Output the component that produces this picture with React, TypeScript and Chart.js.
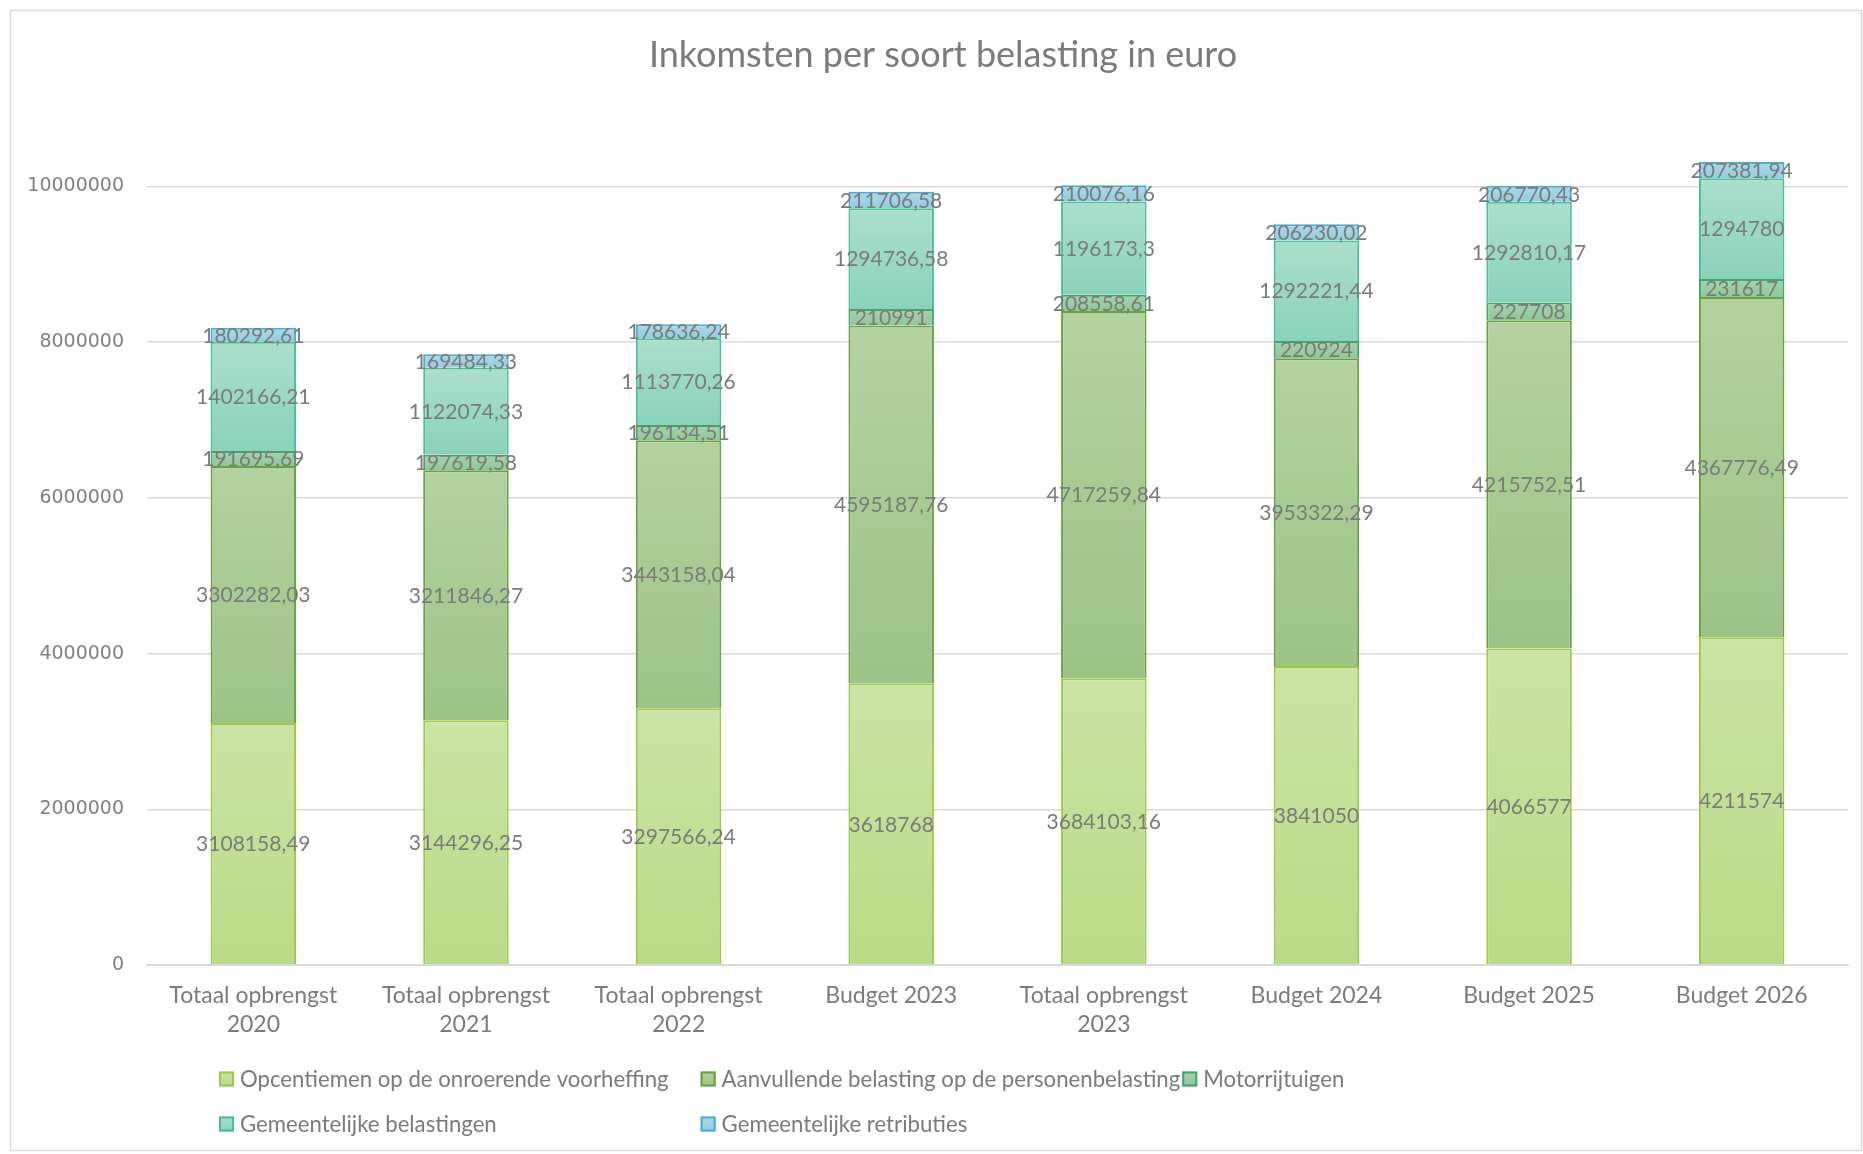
import React, { useEffect, useRef } from 'react';
import { Chart, registerables } from 'chart.js';
Chart.register(...registerables);

const categories: (string | string[])[] = [
  ['Totaal opbrengst', '2020'],
  ['Totaal opbrengst', '2021'],
  ['Totaal opbrengst', '2022'],
  'Budget 2023',
  ['Totaal opbrengst', '2023'],
  'Budget 2024',
  'Budget 2025',
  'Budget 2026',
];

const opcentiemen = [3108158.49, 3144296.25, 3297566.24, 3618768, 3684103.16, 3841050, 4066577, 4211574];
const aanvullende = [3302282.03, 3211846.27, 3443158.04, 4595187.76, 4717259.84, 3953322.29, 4215752.51, 4367776.49];
const motorrijtuigen = [191695.69, 197619.58, 196134.51, 210991, 208558.61, 220924, 227708, 231617];
const gemBelastingen = [1402166.21, 1122074.33, 1113770.26, 1294736.58, 1196173.3, 1292221.44, 1292810.17, 1294780];
const gemRetributies = [180292.61, 169484.33, 178636.24, 211706.58, 210076.16, 206230.02, 206770.43, 207381.94];

const seriesNames = [
  'Opcentiemen op de onroerende voorheffing',
  'Aanvullende belasting op de personenbelasting',
  'Motorrijtuigen',
  'Gemeentelijke belastingen',
  'Gemeentelijke retributies',
];
const allSeries = [opcentiemen, aanvullende, motorrijtuigen, gemBelastingen, gemRetributies];

const yTickValues = [0, 2000000, 4000000, 6000000, 8000000, 10000000];

const title = 'Inkomsten per soort belasting in euro';

// styles
const fillTop = ['#cae4a5', '#b3d2a0', '#a6d3ad', '#abdfcc', '#acd9e8'];
const fillBottom = ['#b9db86', '#9cc487', '#8fc79a', '#8ad2bb', '#93cde0'];
const borderCols = ['#9acb45', '#62a53c', '#3ea868', '#45bfa2', '#4aaed0'];
const TEXT = '#7b7b7b';
const FONT = 'Lato, "Open Sans", sans-serif';

function fmt(v: number): string {
  return String(v).replace('.', ',');
}

function makeFill(si: number) {
  return (ctx: any) => {
    const chart = ctx.chart;
    const y = chart.scales && chart.scales.y;
    if (!chart.chartArea || !y || ctx.type !== 'data') return fillBottom[si];
    const i = ctx.dataIndex;
    let base = 0;
    for (let s = 0; s < si; s++) base += allSeries[s][i];
    const v = allSeries[si][i];
    const y0 = y.getPixelForValue(base + v);
    const y1 = y.getPixelForValue(base);
    if (!isFinite(y0) || !isFinite(y1) || y0 === y1) return fillBottom[si];
    const g = chart.ctx.createLinearGradient(0, y0, 0, y1);
    g.addColorStop(0, fillTop[si]);
    g.addColorStop(1, fillBottom[si]);
    return g;
  };
}

const framePlugin = {
  id: 'frame',
  beforeDraw(chart: any) {
    const c = chart.ctx;
    c.save();
    c.fillStyle = '#ffffff';
    c.fillRect(0, 0, chart.width, chart.height);
    c.strokeStyle = '#d9d9d9';
    c.lineWidth = 1.5;
    c.strokeRect(10.5, 10.5, 1851, 1140);
    c.restore();
  },
  afterDraw(chart: any) {
    const c = chart.ctx;
    c.save();
    // title
    c.font = `36px ${FONT}`;
    c.fillStyle = TEXT;
    c.textAlign = 'center';
    c.textBaseline = 'middle';
    c.fillText(title, 943, 55);
    // legend
    c.font = `22.2px ${FONT}`;
    c.textAlign = 'left';
    const widths = seriesNames.map((n) => c.measureText(n).width);
    const box = 15;
    const gap = 6;
    const colW = Math.max(...widths) + box + gap + 2;
    const startX = 219;
    const rows = [1079, 1124];
    seriesNames.forEach((name, k) => {
      const row = k < 3 ? 0 : 1;
      const col = k < 3 ? k : k - 3;
      const x = startX + col * colW;
      const yc = rows[row];
      const g = c.createLinearGradient(0, yc - box / 2, 0, yc + box / 2);
      g.addColorStop(0, fillTop[k]);
      g.addColorStop(1, fillBottom[k]);
      c.fillStyle = g;
      c.fillRect(x, yc - box / 2, box, box);
      c.strokeStyle = borderCols[k];
      c.lineWidth = 2;
      c.strokeRect(x + 1, yc - box / 2 + 1, box - 2, box - 2);
      c.fillStyle = TEXT;
      c.fillText(name, x + box + gap, yc + 1);
    });
    c.restore();
  },
};

const labelPlugin = {
  id: 'segLabels',
  afterDatasetsDraw(chart: any) {
    const c = chart.ctx;
    c.save();
    c.font = `21px ${FONT}`;
    c.fillStyle = TEXT;
    c.textAlign = 'center';
    c.textBaseline = 'middle';
    chart.data.datasets.forEach((ds: any, di: number) => {
      const meta = chart.getDatasetMeta(di);
      meta.data.forEach((el: any, i: number) => {
        const p = el.getProps(['x', 'y', 'base'], true);
        c.fillText(fmt(ds.data[i]), p.x, (p.y + p.base) / 2 + 1);
      });
    });
    c.restore();
  },
};

export default function App() {
  const ref = useRef<HTMLCanvasElement | null>(null);
  useEffect(() => {
    if (!ref.current) return;
    const chart = new Chart(ref.current, {
      type: 'bar',
      data: {
        labels: categories,
        datasets: allSeries.map((data, si) => ({
          label: seriesNames[si],
          data,
          backgroundColor: makeFill(si),
          borderColor: borderCols[si],
          borderWidth: 2,
          categoryPercentage: 1,
          barPercentage: 0.402,
        })),
      },
      options: {
        animation: false,
        responsive: false,
        devicePixelRatio: 1,
        layout: { padding: { left: 0, right: 15, top: 108.65, bottom: 0 } },
        plugins: {
          legend: { display: false },
          title: { display: false },
          tooltip: { enabled: false },
        },
        scales: {
          x: {
            stacked: true,
            grid: { display: false, drawTicks: false },
            border: { display: true, color: '#d9d9d9', width: 2 },
            ticks: {
              color: TEXT,
              font: { family: FONT, size: 23, lineHeight: 1.22 },
              padding: 17,
              maxRotation: 0,
              autoSkip: false,
            },
            afterFit: (s: any) => {
              s.height = 189;
            },
          },
          y: {
            stacked: true,
            min: 0,
            max: 11000000,
            grid: { color: '#d9d9d9', lineWidth: 1.5, drawTicks: false },
            border: { display: false },
            ticks: {
              stepSize: 2000000,
              color: '#808080',
              font: { family: '"DejaVu Sans", sans-serif', size: 19 },
              padding: 23,
              callback: (v: any) => String(v),
            },
            afterBuildTicks: (s: any) => {
              s.ticks = yTickValues.map((value) => ({ value }));
            },
            afterFit: (s: any) => {
              s.width = 147;
            },
          },
        },
      },
      plugins: [framePlugin, labelPlugin],
    });
    return () => chart.destroy();
  }, []);
  return (
    <div style={{ position: 'absolute', left: 0, top: 0, width: 1863, height: 1154 }}>
      <canvas ref={ref} width={1863} height={1154} style={{ display: 'block' }} />
    </div>
  );
}
